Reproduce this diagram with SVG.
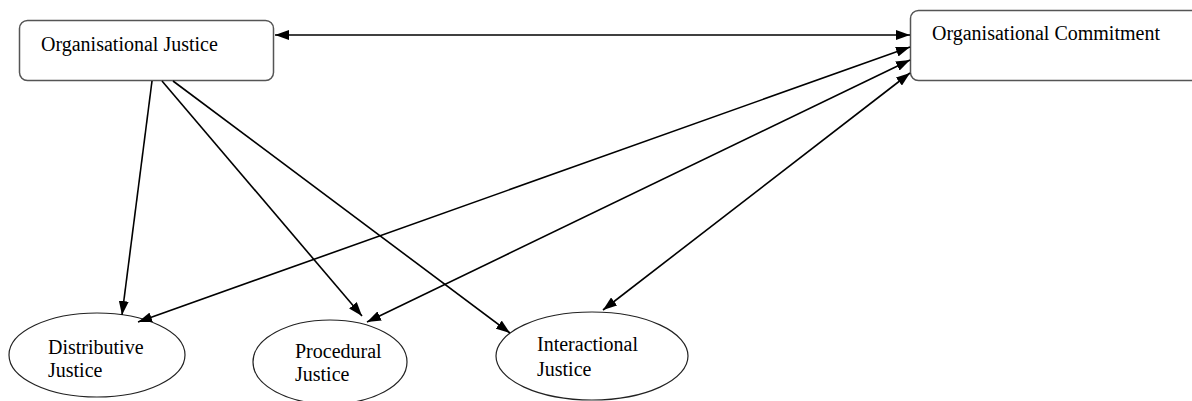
<svg xmlns="http://www.w3.org/2000/svg" width="1192" height="401" viewBox="0 0 1192 401">
<defs>
<marker id="ah" viewBox="0 0 14 10" refX="14" refY="5" markerWidth="14" markerHeight="10" markerUnits="userSpaceOnUse" orient="auto-start-reverse">
<path d="M0,0 L14,5 L0,10 Z" fill="#000"/>
</marker>
<style>
.box{fill:#fff;stroke:#555;stroke-width:1.5}
.ell{fill:#fff;stroke:#222;stroke-width:1.2}
.t{font-family:"Liberation Serif","Times New Roman",serif;font-size:20px;fill:#000}
.c{stroke:#000;stroke-width:1.6;fill:none}
</style>
</defs>
<rect width="1192" height="401" fill="#fff"/>
<g id="oj"><rect class="box" x="19.5" y="20.5" width="254" height="60" rx="8"/><text class="t" x="41" y="51">Organisational Justice</text></g>
<g id="oc"><rect class="box" x="910.5" y="10.5" width="300" height="70" rx="8"/><text class="t" x="932" y="40">Organisational Commitment</text></g>
<g id="dj"><ellipse class="ell" cx="97" cy="355" rx="88" ry="42"/><text class="t" x="48" y="354">Distributive</text><text class="t" x="48" y="377">Justice</text></g>
<g id="pj"><ellipse class="ell" cx="330" cy="362" rx="77" ry="42"/><text class="t" x="295" y="358">Procedural</text><text class="t" x="295" y="381">Justice</text></g>
<g id="ij"><ellipse class="ell" cx="592" cy="356" rx="96" ry="44"/><text class="t" x="537" y="351">Interactional</text><text class="t" x="537" y="376">Justice</text></g>
<g id="connectors">
<line class="c" x1="275" y1="35" x2="910" y2="35" marker-start="url(#ah)" marker-end="url(#ah)"/>
<line class="c" x1="152" y1="81" x2="122" y2="315" marker-end="url(#ah)"/>
<line class="c" x1="162" y1="81" x2="362" y2="316" marker-end="url(#ah)"/>
<line class="c" x1="173" y1="81" x2="510" y2="333" marker-end="url(#ah)"/>
<line class="c" x1="910" y1="47" x2="138" y2="322" marker-start="url(#ah)" marker-end="url(#ah)"/>
<line class="c" x1="910" y1="60" x2="367" y2="322" marker-start="url(#ah)" marker-end="url(#ah)"/>
<line class="c" x1="910" y1="73" x2="603" y2="310" marker-start="url(#ah)" marker-end="url(#ah)"/>
</g>
</svg>
